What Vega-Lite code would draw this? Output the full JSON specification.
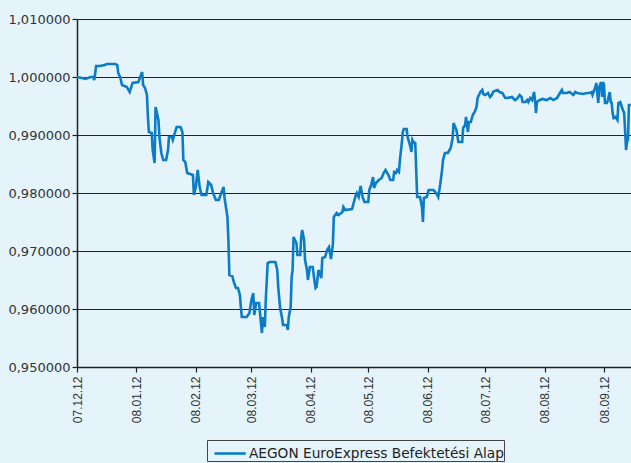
{
"$schema": "https://vega.github.io/schema/vega-lite/v6.json",
"width": 554, "height": 348,
"autosize": "none",
"padding": {"left": 77, "top": 19, "right": 0, "bottom": 96},
"background": "#e5f3fa",
"config": {"view": {"stroke": null}, "font": "DejaVu Sans"},
"data": {"values": [
{"date":"2007-12-12T00:00","value":1.00000},
{"date":"2007-12-14T12:00","value":0.99983},
{"date":"2007-12-16T12:00","value":0.99966},
{"date":"2007-12-19T00:00","value":1.00000},
{"date":"2007-12-20T12:00","value":1.00000},
{"date":"2007-12-21T00:00","value":0.99948},
{"date":"2007-12-22T00:00","value":1.00190},
{"date":"2007-12-24T00:00","value":1.00190},
{"date":"2007-12-26T12:00","value":1.00207},
{"date":"2007-12-27T12:00","value":1.00224},
{"date":"2008-01-01T00:00","value":1.00224},
{"date":"2008-01-02T00:00","value":1.00207},
{"date":"2008-01-02T12:00","value":1.00069},
{"date":"2008-01-03T12:00","value":1.00000},
{"date":"2008-01-04T12:00","value":0.99862},
{"date":"2008-01-07T00:00","value":0.99828},
{"date":"2008-01-08T12:00","value":0.99741},
{"date":"2008-01-10T00:00","value":0.99897},
{"date":"2008-01-13T00:00","value":0.99914},
{"date":"2008-01-14T00:00","value":1.00000},
{"date":"2008-01-15T00:00","value":1.00086},
{"date":"2008-01-15T12:00","value":0.99862},
{"date":"2008-01-16T12:00","value":0.99810},
{"date":"2008-01-17T12:00","value":0.99690},
{"date":"2008-01-18T00:00","value":0.99310},
{"date":"2008-01-18T12:00","value":0.99052},
{"date":"2008-01-20T00:00","value":0.99034},
{"date":"2008-01-20T12:00","value":0.98741},
{"date":"2008-01-21T12:00","value":0.98517},
{"date":"2008-01-22T00:00","value":0.99483},
{"date":"2008-01-23T12:00","value":0.99259},
{"date":"2008-01-24T00:00","value":0.98966},
{"date":"2008-01-25T00:00","value":0.98690},
{"date":"2008-01-26T00:00","value":0.98569},
{"date":"2008-01-27T12:00","value":0.98569},
{"date":"2008-01-28T12:00","value":0.98741},
{"date":"2008-01-29T00:00","value":0.98966},
{"date":"2008-01-30T12:00","value":0.98966},
{"date":"2008-01-31T00:00","value":0.98914},
{"date":"2008-02-01T00:00","value":0.99034},
{"date":"2008-02-02T00:00","value":0.99138},
{"date":"2008-02-04T00:00","value":0.99138},
{"date":"2008-02-05T00:00","value":0.99052},
{"date":"2008-02-05T12:00","value":0.98569},
{"date":"2008-02-06T12:00","value":0.98534},
{"date":"2008-02-07T12:00","value":0.98345},
{"date":"2008-02-10T12:00","value":0.98310},
{"date":"2008-02-11T00:00","value":0.97966},
{"date":"2008-02-12T00:00","value":0.98103},
{"date":"2008-02-12T12:00","value":0.98259},
{"date":"2008-02-13T00:00","value":0.98397},
{"date":"2008-02-14T00:00","value":0.98103},
{"date":"2008-02-15T00:00","value":0.97966},
{"date":"2008-02-17T12:00","value":0.97966},
{"date":"2008-02-18T12:00","value":0.98190},
{"date":"2008-02-20T00:00","value":0.98138},
{"date":"2008-02-21T00:00","value":0.98000},
{"date":"2008-02-22T12:00","value":0.97879},
{"date":"2008-02-24T00:00","value":0.97879},
{"date":"2008-02-25T12:00","value":0.98017},
{"date":"2008-02-26T12:00","value":0.98103},
{"date":"2008-02-27T00:00","value":0.97914},
{"date":"2008-02-28T12:00","value":0.97586},
{"date":"2008-02-29T00:00","value":0.97190},
{"date":"2008-02-29T12:00","value":0.96586},
{"date":"2008-03-02T00:00","value":0.96569},
{"date":"2008-03-03T00:00","value":0.96448},
{"date":"2008-03-04T00:00","value":0.96362},
{"date":"2008-03-05T00:00","value":0.96362},
{"date":"2008-03-06T00:00","value":0.96241},
{"date":"2008-03-06T12:00","value":0.96034},
{"date":"2008-03-07T00:00","value":0.95862},
{"date":"2008-03-09T12:00","value":0.95862},
{"date":"2008-03-11T00:00","value":0.95931},
{"date":"2008-03-12T00:00","value":0.96155},
{"date":"2008-03-13T00:00","value":0.96276},
{"date":"2008-03-13T12:00","value":0.95897},
{"date":"2008-03-14T12:00","value":0.96103},
{"date":"2008-03-16T00:00","value":0.96103},
{"date":"2008-03-17T00:00","value":0.95759},
{"date":"2008-03-17T12:00","value":0.95586},
{"date":"2008-03-18T00:00","value":0.95862},
{"date":"2008-03-19T00:00","value":0.95690},
{"date":"2008-03-19T12:00","value":0.96155},
{"date":"2008-03-20T12:00","value":0.96793},
{"date":"2008-03-21T12:00","value":0.96810},
{"date":"2008-03-24T12:00","value":0.96810},
{"date":"2008-03-25T12:00","value":0.96672},
{"date":"2008-03-26T00:00","value":0.96379},
{"date":"2008-03-27T00:00","value":0.96017},
{"date":"2008-03-28T00:00","value":0.95845},
{"date":"2008-03-28T12:00","value":0.95724},
{"date":"2008-03-30T12:00","value":0.95724},
{"date":"2008-03-31T00:00","value":0.95638},
{"date":"2008-03-31T12:00","value":0.95862},
{"date":"2008-04-01T12:00","value":0.96034},
{"date":"2008-04-02T00:00","value":0.96552},
{"date":"2008-04-02T12:00","value":0.96672},
{"date":"2008-04-03T00:00","value":0.97241},
{"date":"2008-04-04T12:00","value":0.97138},
{"date":"2008-04-05T00:00","value":0.96931},
{"date":"2008-04-06T12:00","value":0.96931},
{"date":"2008-04-07T00:00","value":0.97241},
{"date":"2008-04-07T12:00","value":0.97362},
{"date":"2008-04-08T12:00","value":0.97190},
{"date":"2008-04-09T00:00","value":0.96845},
{"date":"2008-04-10T00:00","value":0.96672},
{"date":"2008-04-10T12:00","value":0.96500},
{"date":"2008-04-11T12:00","value":0.96724},
{"date":"2008-04-13T00:00","value":0.96724},
{"date":"2008-04-14T00:00","value":0.96466},
{"date":"2008-04-14T12:00","value":0.96362},
{"date":"2008-04-15T00:00","value":0.96379},
{"date":"2008-04-16T00:00","value":0.96672},
{"date":"2008-04-17T12:00","value":0.96534},
{"date":"2008-04-18T00:00","value":0.96879},
{"date":"2008-04-19T12:00","value":0.96897},
{"date":"2008-04-20T12:00","value":0.97017},
{"date":"2008-04-21T12:00","value":0.97069},
{"date":"2008-04-22T12:00","value":0.96862},
{"date":"2008-04-23T12:00","value":0.97103},
{"date":"2008-04-24T00:00","value":0.97586},
{"date":"2008-04-25T12:00","value":0.97655},
{"date":"2008-04-26T12:00","value":0.97621},
{"date":"2008-04-28T12:00","value":0.97672},
{"date":"2008-04-29T00:00","value":0.97759},
{"date":"2008-04-30T00:00","value":0.97707},
{"date":"2008-05-03T12:00","value":0.97724},
{"date":"2008-05-04T12:00","value":0.97845},
{"date":"2008-05-05T12:00","value":0.97966},
{"date":"2008-05-06T00:00","value":0.98000},
{"date":"2008-05-07T00:00","value":0.97931},
{"date":"2008-05-08T00:00","value":0.98121},
{"date":"2008-05-09T00:00","value":0.97931},
{"date":"2008-05-10T00:00","value":0.97845},
{"date":"2008-05-12T00:00","value":0.97845},
{"date":"2008-05-12T12:00","value":0.98052},
{"date":"2008-05-13T12:00","value":0.98138},
{"date":"2008-05-14T12:00","value":0.98276},
{"date":"2008-05-15T00:00","value":0.98086},
{"date":"2008-05-16T00:00","value":0.98172},
{"date":"2008-05-17T12:00","value":0.98224},
{"date":"2008-05-19T00:00","value":0.98259},
{"date":"2008-05-20T00:00","value":0.98345},
{"date":"2008-05-21T00:00","value":0.98397},
{"date":"2008-05-22T12:00","value":0.98310},
{"date":"2008-05-23T12:00","value":0.98224},
{"date":"2008-05-25T00:00","value":0.98224},
{"date":"2008-05-25T12:00","value":0.98362},
{"date":"2008-05-26T12:00","value":0.98345},
{"date":"2008-05-27T00:00","value":0.98397},
{"date":"2008-05-28T00:00","value":0.98362},
{"date":"2008-05-28T12:00","value":0.98569},
{"date":"2008-05-29T12:00","value":0.98862},
{"date":"2008-05-30T00:00","value":0.99052},
{"date":"2008-05-30T12:00","value":0.99103},
{"date":"2008-06-01T00:00","value":0.99103},
{"date":"2008-06-01T12:00","value":0.98966},
{"date":"2008-06-03T00:00","value":0.98793},
{"date":"2008-06-03T12:00","value":0.98707},
{"date":"2008-06-04T00:00","value":0.98914},
{"date":"2008-06-04T12:00","value":0.98879},
{"date":"2008-06-05T12:00","value":0.98862},
{"date":"2008-06-06T00:00","value":0.98397},
{"date":"2008-06-06T12:00","value":0.97931},
{"date":"2008-06-08T00:00","value":0.97931},
{"date":"2008-06-09T00:00","value":0.97759},
{"date":"2008-06-09T12:00","value":0.97500},
{"date":"2008-06-10T00:00","value":0.97914},
{"date":"2008-06-11T12:00","value":0.97931},
{"date":"2008-06-12T12:00","value":0.98052},
{"date":"2008-06-15T00:00","value":0.98052},
{"date":"2008-06-16T00:00","value":0.98017},
{"date":"2008-06-17T00:00","value":0.97966},
{"date":"2008-06-17T12:00","value":0.97931},
{"date":"2008-06-18T12:00","value":0.98138},
{"date":"2008-06-19T12:00","value":0.98397},
{"date":"2008-06-20T00:00","value":0.98569},
{"date":"2008-06-21T00:00","value":0.98690},
{"date":"2008-06-22T12:00","value":0.98690},
{"date":"2008-06-24T00:00","value":0.98776},
{"date":"2008-06-24T12:00","value":0.98862},
{"date":"2008-06-25T00:00","value":0.98948},
{"date":"2008-06-25T12:00","value":0.99207},
{"date":"2008-06-27T00:00","value":0.99086},
{"date":"2008-06-28T00:00","value":0.98879},
{"date":"2008-06-30T00:00","value":0.98879},
{"date":"2008-06-30T12:00","value":0.99121},
{"date":"2008-07-01T12:00","value":0.99172},
{"date":"2008-07-02T00:00","value":0.99310},
{"date":"2008-07-03T00:00","value":0.99052},
{"date":"2008-07-03T12:00","value":0.99224},
{"date":"2008-07-04T12:00","value":0.99224},
{"date":"2008-07-05T12:00","value":0.99345},
{"date":"2008-07-06T12:00","value":0.99397},
{"date":"2008-07-07T12:00","value":0.99483},
{"date":"2008-07-08T00:00","value":0.99638},
{"date":"2008-07-09T12:00","value":0.99741},
{"date":"2008-07-10T12:00","value":0.99776},
{"date":"2008-07-11T00:00","value":0.99707},
{"date":"2008-07-12T00:00","value":0.99690},
{"date":"2008-07-13T12:00","value":0.99724},
{"date":"2008-07-14T12:00","value":0.99655},
{"date":"2008-07-15T12:00","value":0.99690},
{"date":"2008-07-16T00:00","value":0.99741},
{"date":"2008-07-17T00:00","value":0.99759},
{"date":"2008-07-18T12:00","value":0.99776},
{"date":"2008-07-19T12:00","value":0.99741},
{"date":"2008-07-21T00:00","value":0.99724},
{"date":"2008-07-21T12:00","value":0.99690},
{"date":"2008-07-22T12:00","value":0.99638},
{"date":"2008-07-23T12:00","value":0.99638},
{"date":"2008-07-26T00:00","value":0.99655},
{"date":"2008-07-27T12:00","value":0.99603},
{"date":"2008-07-28T12:00","value":0.99621},
{"date":"2008-07-30T00:00","value":0.99690},
{"date":"2008-07-31T00:00","value":0.99655},
{"date":"2008-07-31T12:00","value":0.99569},
{"date":"2008-08-02T00:00","value":0.99569},
{"date":"2008-08-03T00:00","value":0.99603},
{"date":"2008-08-03T12:00","value":0.99569},
{"date":"2008-08-04T12:00","value":0.99638},
{"date":"2008-08-05T12:00","value":0.99603},
{"date":"2008-08-06T12:00","value":0.99741},
{"date":"2008-08-07T00:00","value":0.99603},
{"date":"2008-08-07T12:00","value":0.99379},
{"date":"2008-08-08T00:00","value":0.99569},
{"date":"2008-08-09T12:00","value":0.99603},
{"date":"2008-08-11T00:00","value":0.99621},
{"date":"2008-08-13T00:00","value":0.99603},
{"date":"2008-08-15T00:00","value":0.99638},
{"date":"2008-08-16T12:00","value":0.99603},
{"date":"2008-08-18T12:00","value":0.99638},
{"date":"2008-08-20T00:00","value":0.99724},
{"date":"2008-08-21T00:00","value":0.99776},
{"date":"2008-08-21T12:00","value":0.99724},
{"date":"2008-08-23T12:00","value":0.99724},
{"date":"2008-08-25T00:00","value":0.99741},
{"date":"2008-08-27T00:00","value":0.99690},
{"date":"2008-08-28T00:00","value":0.99741},
{"date":"2008-08-29T00:00","value":0.99724},
{"date":"2008-09-01T00:00","value":0.99707},
{"date":"2008-09-03T00:00","value":0.99724},
{"date":"2008-09-04T12:00","value":0.99724},
{"date":"2008-09-05T12:00","value":0.99741},
{"date":"2008-09-06T00:00","value":0.99690},
{"date":"2008-09-07T12:00","value":0.99828},
{"date":"2008-09-08T00:00","value":0.99897},
{"date":"2008-09-08T12:00","value":0.99724},
{"date":"2008-09-09T00:00","value":0.99552},
{"date":"2008-09-09T12:00","value":0.99828},
{"date":"2008-09-10T12:00","value":0.99914},
{"date":"2008-09-11T00:00","value":0.99655},
{"date":"2008-09-11T12:00","value":0.99914},
{"date":"2008-09-12T00:00","value":0.99862},
{"date":"2008-09-12T12:00","value":0.99552},
{"date":"2008-09-13T12:00","value":0.99552},
{"date":"2008-09-14T00:00","value":0.99603},
{"date":"2008-09-15T00:00","value":0.99741},
{"date":"2008-09-15T12:00","value":0.99569},
{"date":"2008-09-16T00:00","value":0.99552},
{"date":"2008-09-16T12:00","value":0.99379},
{"date":"2008-09-17T00:00","value":0.99293},
{"date":"2008-09-18T00:00","value":0.99310},
{"date":"2008-09-19T00:00","value":0.99259},
{"date":"2008-09-19T12:00","value":0.99552},
{"date":"2008-09-20T12:00","value":0.99569},
{"date":"2008-09-21T12:00","value":0.99466},
{"date":"2008-09-22T12:00","value":0.99379},
{"date":"2008-09-23T00:00","value":0.99086},
{"date":"2008-09-23T12:00","value":0.98741},
{"date":"2008-09-24T00:00","value":0.98879},
{"date":"2008-09-24T12:00","value":0.98914},
{"date":"2008-09-25T00:00","value":0.99517},
{"date":"2008-09-26T00:00","value":0.99517}
]},
"mark": {"type": "line", "strokeWidth": 2.6, "clip": true},
"encoding": {
  "x": {"field": "date", "type": "temporal",
    "scale": {"domain": [{"year": 2007, "month": 12, "date": 12}, {"year": 2008, "month": 9, "date": 26, "hours": 2}]},
    "axis": {"title": null, "grid": false,
      "values": [{"year":2007,"month":12,"date":12},{"year":2008,"month":1,"date":12},{"year":2008,"month":2,"date":12},{"year":2008,"month":3,"date":12},{"year":2008,"month":4,"date":12},{"year":2008,"month":5,"date":12},{"year":2008,"month":6,"date":12},{"year":2008,"month":7,"date":12},{"year":2008,"month":8,"date":12},{"year":2008,"month":9,"date":12}],
      "format": "%y.%m.%d", "labelAngle": 270, "labelFont": "Liberation Sans", "labelFontSize": 12,
      "labelColor": "#333333", "tickColor": "#222222", "tickSize": 5, "tickWidth": 1.2,
      "domainColor": "#222222", "domainWidth": 1.5, "labelPadding": 4, "labelOverlap": false, "labelFlush": false}},
  "y": {"field": "value", "type": "quantitative",
    "scale": {"domain": [0.95, 1.01], "zero": false, "nice": false},
    "axis": {"title": null, "values": [0.95, 0.96, 0.97, 0.98, 0.99, 1.0, 1.01],
      "labelExpr": "replace(format(datum.value, '.6f'), '.', ',')",
      "grid": true, "gridColor": "#222222", "gridWidth": 1.2,
      "tickSize": 5, "tickColor": "#222222", "tickWidth": 1.2,
      "domainColor": "#222222", "domainWidth": 1.5,
      "labelFont": "DejaVu Sans", "labelFontSize": 13, "labelColor": "#333333", "labelPadding": 2}},
  "color": {"datum": "AEGON EuroExpress Befektetési Alap", "type": "nominal",
    "scale": {"range": ["#0b7dc6"]},
    "legend": {"orient": "none", "legendX": 130, "legendY": 421, "title": null,
      "symbolType": "M-1.3,0H1.3", "symbolSize": 576, "symbolStrokeWidth": 2.6, "symbolOffset": 9.6,
      "labelOffset": 5.4, "labelLimit": 0, "labelFont": "DejaVu Sans", "labelFontSize": 13.7, "labelColor": "#222222",
      "strokeColor": "#444444", "padding": 0, "fillColor": "#e5f3fa"}}
}
}
